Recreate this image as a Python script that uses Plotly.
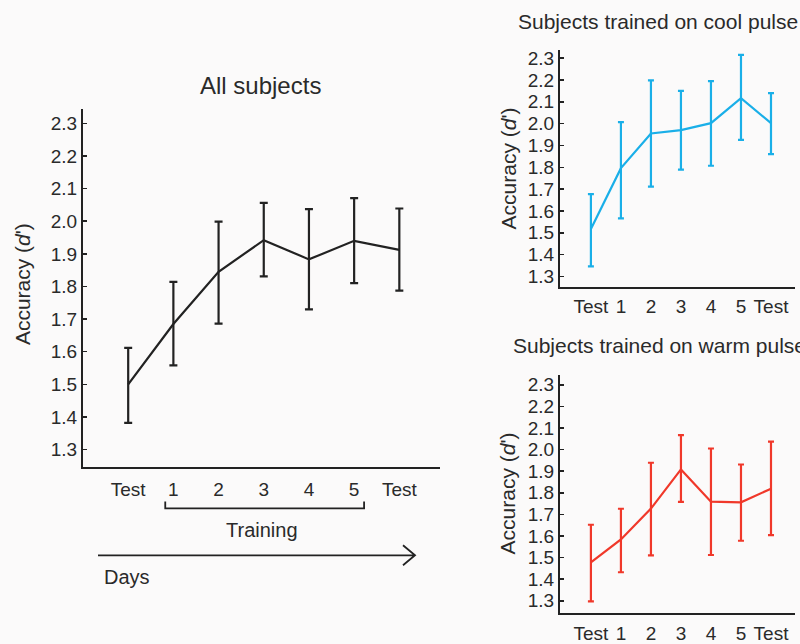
import plotly.graph_objects as go

days = ["Test", "1", "2", "3", "4", "5", "Test"]
yticks = [1.3, 1.4, 1.5, 1.6, 1.7, 1.8, 1.9, 2.0, 2.1, 2.2, 2.3]

all_mean = [1.50, 1.685, 1.845, 1.942, 1.883, 1.940, 1.912]
all_hi = [1.612, 1.814, 1.999, 2.056, 2.037, 2.071, 2.039]
all_lo = [1.382, 1.558, 1.686, 1.831, 1.730, 1.810, 1.787]

cool_mean = [1.517, 1.796, 1.955, 1.970, 2.002, 2.117, 2.002]
cool_hi = [1.677, 2.007, 2.198, 2.150, 2.195, 2.315, 2.140]
cool_lo = [1.346, 1.566, 1.711, 1.789, 1.807, 1.926, 1.860]

warm_mean = [1.478, 1.584, 1.727, 1.908, 1.759, 1.756, 1.819]
warm_hi = [1.652, 1.726, 1.939, 2.067, 2.005, 1.931, 2.037]
warm_lo = [1.297, 1.432, 1.510, 1.758, 1.512, 1.578, 1.604]

BG = "#fbfafa"
INK = "#222222"
TXT = "#2a2a2a"
COOL = "#1aafe8"
WARM = "#f0382a"
FONT = "Liberation Sans, Arial, sans-serif"

xs = list(range(len(days)))

def trace(mean, hi, lo, color, xa, ya, cap):
    return go.Scatter(
        x=xs, y=mean, mode="lines", xaxis=xa, yaxis=ya,
        line=dict(color=color, width=2.2),
        error_y=dict(type="data", symmetric=False,
                     array=[h - m for h, m in zip(hi, mean)],
                     arrayminus=[m - l for m, l in zip(mean, lo)],
                     color=color, thickness=2.2, width=cap),
        showlegend=False, hoverinfo="skip")

fig = go.Figure()
fig.add_trace(trace(all_mean, all_hi, all_lo, INK, "x", "y", 4))
fig.add_trace(trace(cool_mean, cool_hi, cool_lo, COOL, "x2", "y2", 3))
fig.add_trace(trace(warm_mean, warm_hi, warm_lo, WARM, "x3", "y3", 3))

H = 644.0
W = 800.0

def py(p):
    return (H - p) / H

def px(p):
    return p / W

tickfont = dict(family=FONT, size=19, color=TXT)

def xaxis(domain, rng, anchor, pad):
    return dict(domain=domain, range=rng, anchor=anchor, tickvals=xs, ticktext=days,
                showline=True, linecolor=INK, linewidth=2, showgrid=False, zeroline=False,
                ticks="outside", ticklen=pad, tickcolor="rgba(0,0,0,0)", tickfont=tickfont,
                fixedrange=True)

def yaxis(domain, rng, anchor):
    return dict(domain=domain, range=rng, anchor=anchor, tickvals=yticks,
                ticktext=["%.1f" % v for v in yticks],
                showline=True, linecolor=INK, linewidth=2, showgrid=False, zeroline=False,
                ticks="inside", ticklen=4, tickwidth=1.5, tickcolor=INK, tickfont=tickfont,
                fixedrange=True)

fig.update_layout(
    width=800, height=644, autosize=False,
    margin=dict(l=0, r=0, t=0, b=0),
    paper_bgcolor=BG, plot_bgcolor=BG,
    xaxis=xaxis([px(83), px(440)], [-1.0, 6.9], "y", 5),
    yaxis=yaxis([py(466), py(107)], [1.248, 2.345], "x"),
    xaxis2=xaxis([px(560), px(795)], [-1.03, 6.8], "y2", 1),
    yaxis2=yaxis([py(286), py(48)], [1.251, 2.338], "x2"),
    xaxis3=xaxis([px(560), px(795)], [-1.03, 6.8], "y3", 2),
    yaxis3=yaxis([py(613), py(374)], [1.243, 2.346], "x3"),
)

def ann(text, x, y, size, xanchor="center", angle=0):
    fig.add_annotation(text=text, x=px(x), y=py(y), xref="paper", yref="paper",
                       xanchor=xanchor, yanchor="middle", showarrow=False, textangle=angle,
                       font=dict(family=FONT, size=size, color=TXT))

ann("All subjects", 260, 84, 24)
ann("Subjects trained on cool pulse", 516, 20, 21, xanchor="left")
ann("Subjects trained on warm pulse", 511, 345, 21, xanchor="left")
ann("Accuracy (<i>d</i>')", 22, 283, 21, angle=-90)
ann("Accuracy (<i>d</i>')", 508, 167, 21, angle=-90)
ann("Accuracy (<i>d</i>')", 507, 493, 21, angle=-90)
ann("Training", 262, 530, 20)
ann("Days", 102, 577, 20, xanchor="left")

# Training bracket spanning days 1..5 on the left axis
fig.add_shape(type="path", xref="x", yref="paper",
              path="M %f,%f L %f,%f L %f,%f L %f,%f" % (
                  xs[1] - 0.18, py(501), xs[1] - 0.18, py(508),
                  xs[5] + 0.22, py(508), xs[5] + 0.22, py(501)),
              line=dict(color=INK, width=1.8))

# Days arrow
fig.add_shape(type="path", xref="paper", yref="paper",
              path="M %f,%f L %f,%f M %f,%f L %f,%f L %f,%f" % (
                  px(98), py(555), px(415), py(555),
                  px(403), py(545), px(415), py(555), px(403), py(565)),
              line=dict(color=INK, width=1.8))

fig.write_html("out.html", config={"displayModeBar": False, "staticPlot": True},
               post_script="document.body.style.margin='0';")
